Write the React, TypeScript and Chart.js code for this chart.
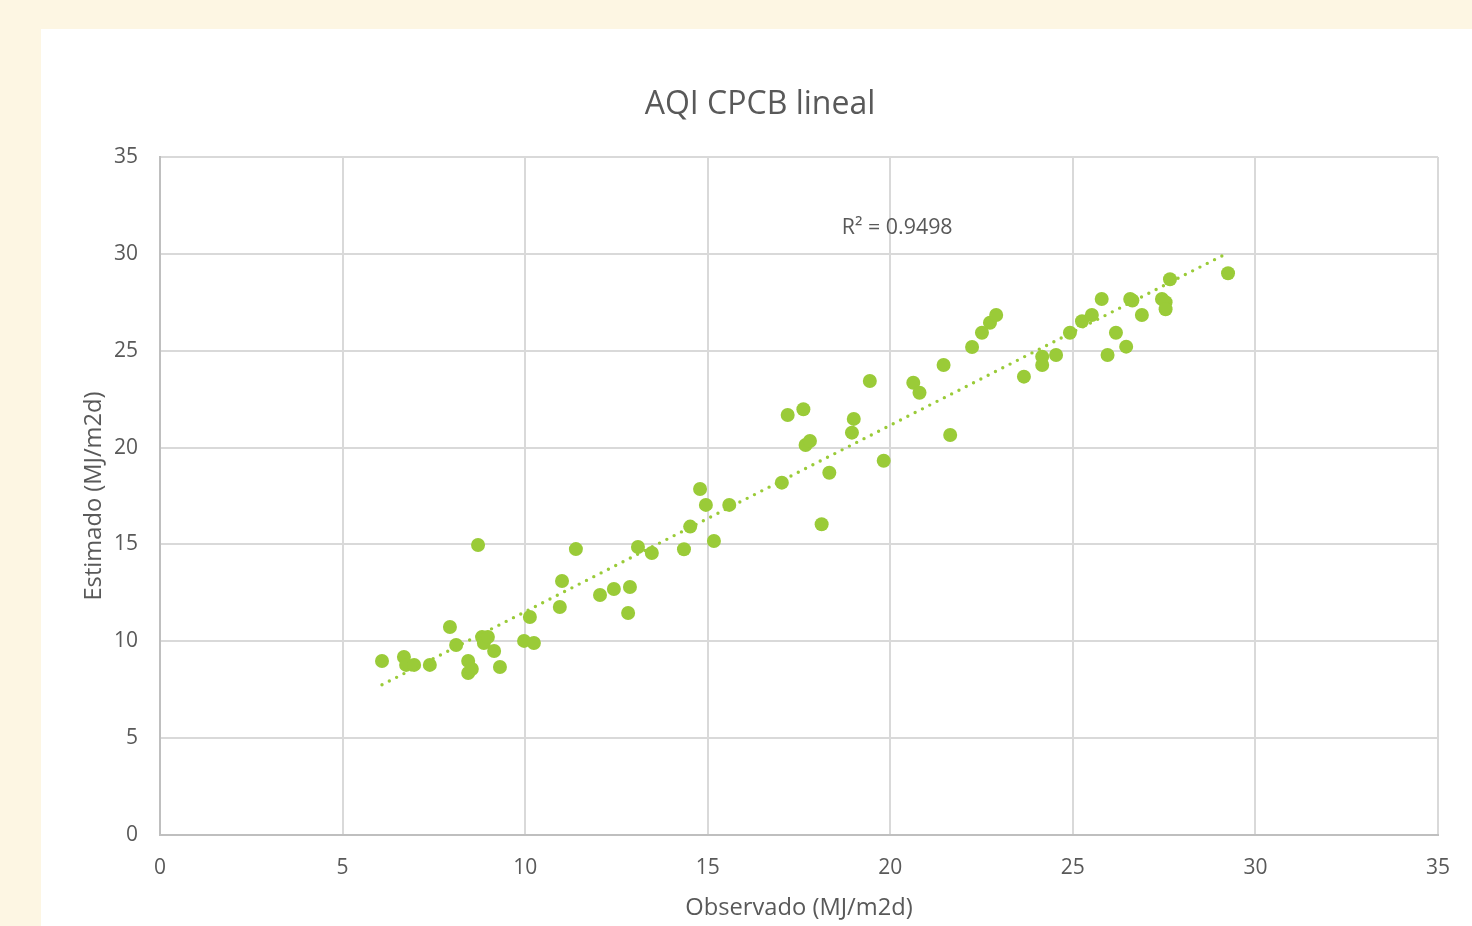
import React, { useEffect, useRef } from "react";
import { Chart, registerables } from "chart.js";

Chart.register(...registerables);

const chartTitle = "AQI CPCB lineal";
const xAxisTitle = "Observado (MJ/m2d)";
const yAxisTitle = "Estimado (MJ/m2d)";
const r2Label = "R² = 0.9498";

const observado = [
  6.08, 6.68, 6.74, 6.96, 7.39, 7.94, 8.11, 8.44, 8.44, 8.54,
  8.71, 8.82, 8.87, 8.98, 9.15, 9.31, 9.97, 10.13, 10.24, 10.95,
  11.01, 11.39, 12.05, 12.43, 12.82, 12.87, 13.09, 13.47, 14.35, 14.52,
  14.79, 14.95, 15.17, 15.59, 17.03, 17.19, 17.62, 17.68, 17.8, 18.12,
  18.33, 18.95, 19.0, 19.44, 19.82, 20.63, 20.8, 21.46, 21.64, 22.24,
  22.51, 22.73, 22.9, 23.66, 24.16, 24.16, 24.54, 24.92, 25.25, 25.52,
  25.79, 25.95, 26.18, 26.46, 26.57, 26.63, 26.89, 27.44, 27.54, 27.54,
  27.66, 29.25,
];

const estimado = [
  8.98, 9.19, 8.78, 8.78, 8.78, 10.74, 9.81, 8.98, 8.36, 8.57,
  14.97, 10.22, 9.91, 10.22, 9.5, 8.67, 10.02, 11.25, 9.91, 11.77,
  13.11, 14.76, 12.39, 12.7, 11.46, 12.8, 14.87, 14.56, 14.75, 15.92,
  17.86, 17.04, 15.18, 17.04, 18.19, 21.68, 21.98, 20.13, 20.34, 16.04,
  18.7, 20.77, 21.48, 23.44, 19.32, 23.35, 22.83, 24.26, 20.65, 25.19,
  25.93, 26.44, 26.84, 23.66, 24.69, 24.26, 24.78, 25.93, 26.52, 26.84,
  27.67, 24.78, 25.93, 25.21, 27.67, 27.59, 26.84, 27.67, 27.5, 27.14,
  28.69, 29.0,
];

const axisTicks = [0, 5, 10, 15, 20, 25, 30, 35];

const GREEN = "#9ACB38";
const TEXT = "#595959";
const FONT = "'Open Sans', sans-serif";

function linearFit(xs: number[], ys: number[]) {
  const n = xs.length;
  const mx = xs.reduce((a, b) => a + b, 0) / n;
  const my = ys.reduce((a, b) => a + b, 0) / n;
  let sxy = 0;
  let sxx = 0;
  for (let i = 0; i < n; i++) {
    sxy += (xs[i] - mx) * (ys[i] - my);
    sxx += (xs[i] - mx) * (xs[i] - mx);
  }
  const slope = sxy / sxx;
  return { slope, intercept: my - slope * mx };
}

const r2Plugin = {
  id: "r2Label",
  afterDatasetsDraw(chart: any) {
    const { ctx, scales } = chart;
    const x = scales.x.getPixelForValue(20.19);
    const y = scales.y.getPixelForValue(31.35);
    ctx.save();
    ctx.font = `21.4px ${FONT}`;
    ctx.fillStyle = TEXT;
    ctx.textAlign = "center";
    ctx.textBaseline = "middle";
    ctx.fillText(r2Label, x, y);
    ctx.restore();
  },
};

export default function App() {
  const canvasRef = useRef<HTMLCanvasElement | null>(null);

  useEffect(() => {
    const canvas = canvasRef.current;
    if (!canvas) return;
    const points = observado.map((x, i) => ({ x, y: estimado[i] }));
    const { slope, intercept } = linearFit(observado, estimado);
    const xMin = Math.min(...observado);
    const xMax = Math.max(...observado);
    const trend = [
      { x: xMin, y: intercept + slope * xMin },
      { x: xMax, y: intercept + slope * xMax },
    ];

    const chart = new Chart(canvas, {
      type: "scatter",
      data: {
        datasets: [
          {
            label: "Estimado",
            data: points,
            backgroundColor: GREEN,
            borderColor: GREEN,
            borderWidth: 0,
            pointRadius: 7,
            pointHoverRadius: 7,
            order: 2,
          },
          {
            label: "Lineal",
            type: "line",
            data: trend,
            borderColor: GREEN,
            borderWidth: 3.4,
            borderDash: [0, 8.2],
            borderCapStyle: "round",
            pointRadius: 0,
            fill: false,
            order: 1,
          } as any,
        ],
      },
      options: {
        responsive: false,
        animation: false,
        layout: { padding: { top: 0, left: 7, right: 0, bottom: 0 } },
        plugins: {
          legend: { display: false },
          tooltip: { enabled: false },
          title: {
            display: true,
            text: chartTitle,
            color: TEXT,
            font: { family: FONT, size: 32, weight: "normal" },
            padding: { top: 56.8, bottom: 32.8 },
          },
        },
        scales: {
          x: {
            type: "linear",
            min: 0,
            max: 35,
            afterBuildTicks(scale: any) {
              scale.ticks = axisTicks.map((v) => ({ value: v }));
            },
            afterFit(scale: any) {
              scale.height = 91;
            },
            grid: { color: "#D9D9D9", lineWidth: 2, drawTicks: false },
            border: { color: "#BFBFBF", width: 2 },
            ticks: {
              color: TEXT,
              font: { family: FONT, size: 21 },
              padding: 20,
            },
            title: {
              display: true,
              text: xAxisTitle,
              color: TEXT,
              font: { family: FONT, size: 23.7 },
              padding: { top: 0, bottom: 3.7 },
            },
          },
          y: {
            type: "linear",
            min: 0,
            max: 35,
            afterBuildTicks(scale: any) {
              scale.ticks = axisTicks.map((v) => ({ value: v }));
            },
            afterFit(scale: any) {
              scale.width = 112;
            },
            grid: { color: "#D9D9D9", lineWidth: 2, drawTicks: false },
            border: { color: "#BFBFBF", width: 2 },
            ticks: {
              color: TEXT,
              font: { family: FONT, size: 21 },
              padding: 22,
            },
            title: {
              display: true,
              text: yAxisTitle,
              color: TEXT,
              font: { family: FONT, size: 23.7 },
              padding: { top: 31.8, bottom: 0 },
            },
          },
          yRightSpace: {
            type: "linear",
            position: "right",
            display: true,
            afterFit(scale: any) {
              scale.width = 34;
            },
            grid: { display: false, drawTicks: false },
            border: { display: false },
            ticks: { display: false },
          },
        },
      },
      plugins: [r2Plugin],
    });
    return () => chart.destroy();
  }, []);

  return (
    <div
      style={{
        position: "absolute",
        left: 0,
        top: 0,
        width: 1472,
        height: 926,
        background: "#FDF6E3",
        overflow: "hidden",
      }}
    >
      <canvas
        ref={canvasRef}
        width={1431}
        height={897}
        style={{
          position: "absolute",
          left: 41,
          top: 29,
          width: 1431,
          height: 897,
          background: "#FFFFFF",
        }}
      />
    </div>
  );
}
